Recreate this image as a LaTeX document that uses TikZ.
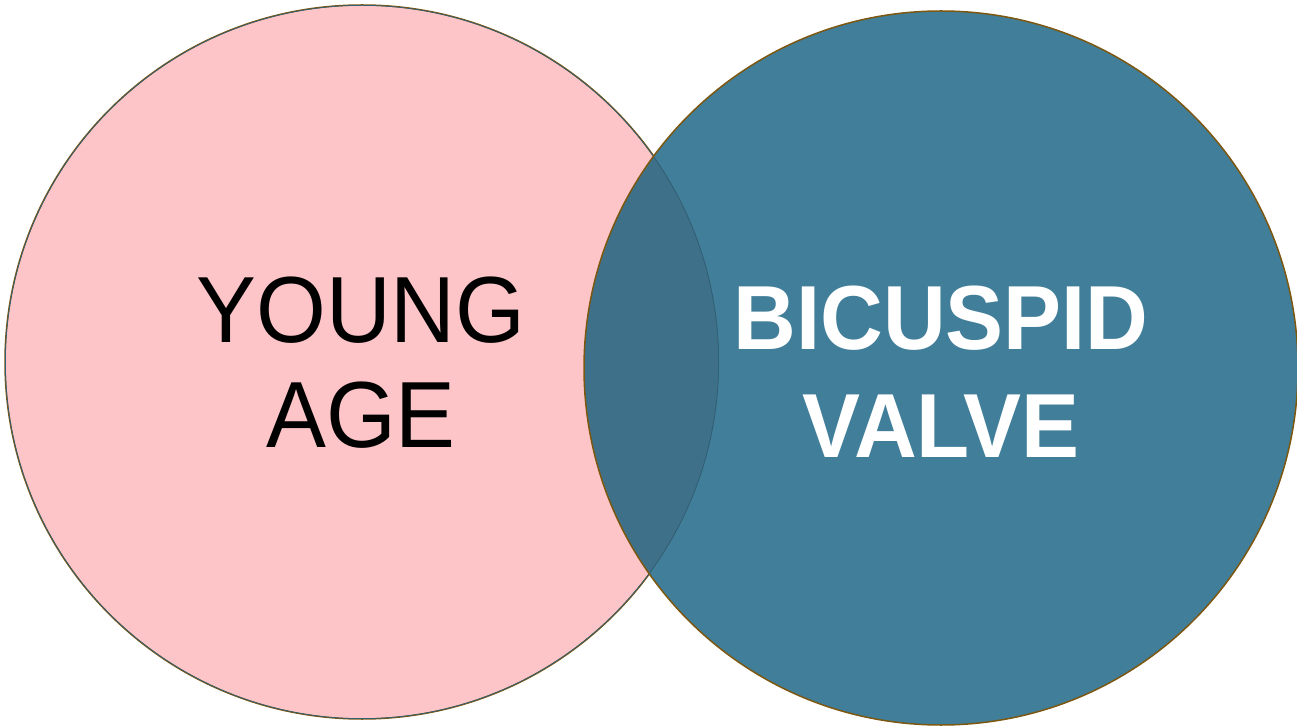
\documentclass[tikz,border=0pt]{standalone}
\usepackage{fontspec}
\setmainfont[FakeStretch=0.955]{Liberation Sans}
\usepackage{tikz}
\usetikzlibrary{shapes}
\definecolor{agepink}{HTML}{FDC5C8}
\definecolor{valveteal}{HTML}{417E99}
\definecolor{overlapteal}{HTML}{3F7089}
\definecolor{ringbrown}{HTML}{7C5710}
\definecolor{innerring}{HTML}{315E72}
\tikzstyle{setcircle} = [circle, draw=ringbrown, line width=1.5pt, minimum size=714pt, inner sep=0pt]
\tikzstyle{label} = [align=center, inner sep=0pt]

\begin{document}
\begin{tikzpicture}[x=1pt, y=1pt]
		\useasboundingbox (0,0) rectangle (1297,726);
		% Kreise
		\node [setcircle, fill=agepink] (youngcircle) at (362,364) {};
		\node [setcircle, fill=valveteal, draw=none] (valvecircle) at (941,358) {};
		
		% Schnittmenge
		\begin{scope}
			\clip (youngcircle.center) circle (357);
			\fill [overlapteal] (valvecircle.center) circle (357);
			\draw [innerring, line width=1.5pt] (youngcircle.center) circle (357);
		\end{scope}
		\draw [ringbrown, line width=1.5pt] (valvecircle.center) circle (357);
		
		% Texte
		\node [label, font=\fontsize{94}{105}\selectfont] (youngtext) at (361,363) {YOUNG\\AGE};
		\node [label, text=white, font=\fontsize{91}{108}\selectfont\bfseries] (valvetext) at (941,354) {BICUSPID\\VALVE};
	\end{tikzpicture}
\end{document}
